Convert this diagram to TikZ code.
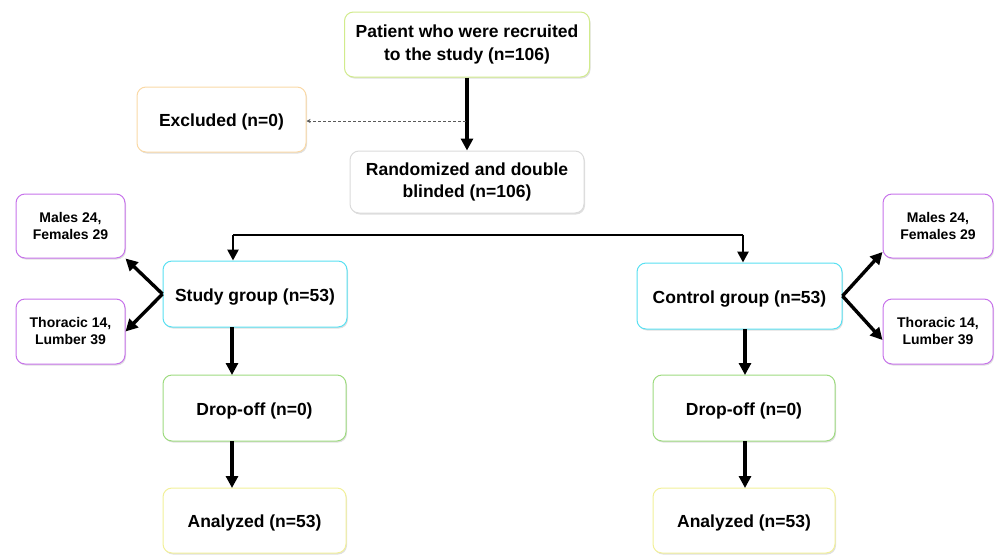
\documentclass[tikz,border=0pt]{standalone}
\usepackage{fontspec}
\setmainfont{Liberation Sans}
\usetikzlibrary{arrows.meta,shadows}
\definecolor{bTop}{rgb}{0.82,0.92,0.55}
\definecolor{bExc}{rgb}{0.98,0.85,0.65}
\definecolor{bRand}{rgb}{0.86,0.86,0.86}
\definecolor{bGrp}{rgb}{0.35,0.88,0.95}
\definecolor{bSide}{rgb}{0.78,0.45,0.92}
\definecolor{bDrop}{rgb}{0.62,0.86,0.50}
\definecolor{bAna}{rgb}{0.95,0.94,0.60}
\tikzset{
  basebox/.style={draw, rounded corners=9pt, fill=white, line width=1pt, align=center,
    inner sep=2pt,
    drop shadow={shadow xshift=1pt, shadow yshift=-1.5pt, opacity=0.25, fill=gray}},
  box/.style={basebox, font=\bfseries\fontsize{17.5}{22.5}\selectfont,
    execute at begin node={\rule{0pt}{18pt}}},
  sidebox/.style={basebox, font=\bfseries\fontsize{14}{17}\selectfont},
  arr/.style={line width=3.4pt, -{Triangle[length=12pt,width=12pt]}},
  thin arr/.style={line width=2.6pt, -{Triangle[length=11pt,width=11pt]}},
}
\begin{document}
\begin{tikzpicture}[x=1pt,y=-1pt]
\useasboundingbox (0,0) rectangle (997,555);
\node[box, draw=bTop, minimum width=245pt, minimum height=65pt] (top) at (467,44.5) {Patient who were recruited\\to the study (n=106)};
\node[box, draw=bExc, minimum width=169pt, minimum height=65pt] (excl) at (221.5,119.5) {Excluded (n=0)};
\node[box, draw=bRand, minimum width=234pt, minimum height=62pt] (rand) at (467,182) {Randomized and double\\blinded (n=106)};
\node[box, draw=bGrp, minimum width=184pt, minimum height=66pt] (study) at (255,294) {Study group (n=53)};
\node[box, draw=bGrp, minimum width=205pt, minimum height=66pt] (ctrl) at (739.5,296) {Control group (n=53)};
\node[sidebox, draw=bSide, minimum width=109pt, minimum height=64pt] (ml) at (70.5,226) {Males 24,\\Females 29};
\node[sidebox, draw=bSide, minimum width=109pt, minimum height=65pt] (tl) at (70.5,331.5) {Thoracic 14,\\Lumber 39};
\node[sidebox, draw=bSide, minimum width=110pt, minimum height=64pt] (mr) at (938,226) {Males 24,\\Females 29};
\node[sidebox, draw=bSide, minimum width=110pt, minimum height=65pt] (tr) at (938,331.5) {Thoracic 14,\\Lumber 39};
\node[box, draw=bDrop, minimum width=183pt, minimum height=66pt] (dl) at (254.5,408) {Drop-off (n=0)};
\node[box, draw=bAna, minimum width=183pt, minimum height=65pt] (al) at (254.5,520.5) {Analyzed (n=53)};
\node[box, draw=bDrop, minimum width=182pt, minimum height=66pt] (dr) at (744,408) {Drop-off (n=0)};
\node[box, draw=bAna, minimum width=182pt, minimum height=65pt] (ar) at (744,520.5) {Analyzed (n=53)};
% connectors
\draw[arr] (top.south) -- (rand.north);
\coordinate (dsrc) at (466,121);
\draw[densely dashed, line width=0.6pt, gray!70!black, -{Stealth[length=4pt,width=4pt]}] (dsrc) -- (excl.east |- dsrc);
\coordinate (bl) at (233,234.5);
\coordinate (br) at (743,234.5);
\draw[line width=2pt] (bl) -- (br);
\draw[thin arr] (bl) -- (bl |- study.north);
\draw[thin arr] (br) -- (br |- ctrl.north);
\draw[arr] (study.west) -- (ml.south east);
\draw[arr] (study.west) -- (tl.east);
\draw[arr] (ctrl.east) -- (mr.west |- 0,252);
\draw[arr] (ctrl.east) -- (tr.west |- 0,340);
\draw[arr] (232,327) -- (232,375);
\draw[arr] (232,441) -- (232,488);
\draw[arr] (745,329) -- (745,375);
\draw[arr] (745,441) -- (745,488);
\end{tikzpicture}
\end{document}
